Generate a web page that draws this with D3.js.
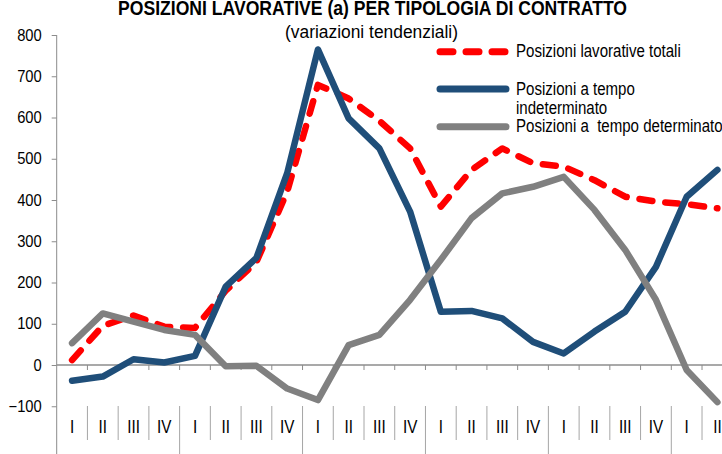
<!DOCTYPE html>
<html>
<head>
<meta charset="utf-8">
<script src="https://cdn.jsdelivr.net/npm/d3@7"></script>
<style>
  html, body { margin: 0; padding: 0; background: #fff; }
  svg { display: block; }
  text { font-family: "Liberation Sans", Arial, sans-serif; fill: #000; white-space: pre; }
</style>
</head>
<body>
<svg id="chart" width="722" height="454"></svg>
<script>
// ---- data ----
const quarters = ["I","II","III","IV","I","II","III","IV","I","II","III","IV","I","II","III","IV","I","II","III","IV","I","II"];
const totali = [12, 95, 120, 93, 90, 180, 250, 420, 679, 646, 592, 525, 384, 473, 525, 489, 481, 448, 408, 396, 390, 380];
const indeterminato = [-38, -28, 14, 6, 22, 190, 260, 465, 765, 598, 525, 372, 129, 131, 113, 56, 28, 81, 129, 238, 408, 473];
const determinato = [53, 125, 105, 85, 73, -3, -2, -57, -85, 48, 73, 158, 255, 356, 416, 432, 456, 376, 279, 158, -12, -90];
const yTicks = [-100, 0, 100, 200, 300, 400, 500, 600, 700, 800];
const seriesNames = ["Posizioni lavorative totali", "Posizioni a tempo indeterminato", "Posizioni a  tempo determinato"];

const svg = d3.select("#chart");
const idx = d3.range(quarters.length);

const x = d3.scaleBand().domain(idx).range([56.7, 56.7 + 30.73 * quarters.length]).padding(0);
const y = d3.scaleLinear().domain([-100, 800]).range([406.25, 35]);
const cx = i => x(i) + x.bandwidth() / 2;

const axisColor = "#8c8c8c";

// narrow the glyphs of a text selection (reference uses a condensed face)
function condense(sel, f) {
  sel.each(function() {
    const w = this.getComputedTextLength();
    d3.select(this).attr("textLength", w * f).attr("lengthAdjust", "spacingAndGlyphs");
  });
}

// y axis
const yAxis = d3.axisLeft(y).tickValues(yTicks).tickSize(5).tickPadding(10).tickFormat(d3.format("d"));
const gy = svg.append("g").attr("transform", "translate(56.7,0)").call(yAxis);
gy.select(".domain").remove();
gy.selectAll(".tick line").attr("stroke", axisColor);
gy.selectAll(".tick text").style("font-family", "'Liberation Sans', Arial, sans-serif").style("font-size", "16px").attr("fill", "#000");
condense(gy.selectAll(".tick text"), 0.92);
svg.append("line").attr("x1", 56.7).attr("x2", 56.7).attr("y1", 35).attr("y2", 454).attr("stroke", axisColor).attr("stroke-width", 1);

// zero line with ticks at band boundaries
const y0 = y(0);
svg.append("line").attr("x1", 56.7).attr("x2", 722).attr("y1", y0).attr("y2", y0).attr("stroke", axisColor).attr("stroke-width", 1.3);
const bounds = d3.range(quarters.length + 1).map(k => 56.7 + x.step() * k);
svg.append("g").selectAll("line").data(bounds.slice(1)).join("line")
  .attr("x1", d => d).attr("x2", d => d).attr("y1", y0).attr("y2", y0 + 5)
  .attr("stroke", axisColor);

// category label separators
svg.append("g").selectAll("line").data(bounds.slice(1)).join("line")
  .attr("x1", d => d).attr("x2", d => d)
  .attr("y1", 406)
  .attr("y2", (d, k) => ((k + 1) % 4 === 0) ? 454 : 440)
  .attr("stroke", "#a6a6a6");

// category labels
const xAxis = d3.axisBottom(x).tickFormat(i => quarters[i]).tickSize(0).tickPadding(0);
const gx = svg.append("g").attr("transform", "translate(0,0)").call(xAxis);
gx.select(".domain").remove();
gx.selectAll(".tick text").attr("dy", null).attr("y", 433)
  .style("font-family", "'Liberation Sans', Arial, sans-serif").style("font-size", "19px").attr("fill", "#000");
condense(gx.selectAll(".tick text"), 0.8);

// lines
const line = data => d3.line().x((d, i) => cx(i)).y(d => y(d))(data);
svg.append("path").attr("d", line(totali)).attr("fill", "none").attr("stroke", "#ff0000")
  .attr("stroke-width", 6.5).attr("stroke-dasharray", "13,13").attr("stroke-linecap", "round").attr("stroke-linejoin", "round");
svg.append("path").attr("d", line(indeterminato)).attr("fill", "none").attr("stroke", "#1f4e79")
  .attr("stroke-width", 6.5).attr("stroke-linecap", "round").attr("stroke-linejoin", "round");
svg.append("path").attr("d", line(determinato)).attr("fill", "none").attr("stroke", "#808080")
  .attr("stroke-width", 6.5).attr("stroke-linecap", "round").attr("stroke-linejoin", "round");

// title
svg.append("text").attr("x", 372.5).attr("y", 15).attr("text-anchor", "middle")
  .style("font-size", "20px").style("font-weight", "bold")
  .attr("textLength", 509).attr("lengthAdjust", "spacingAndGlyphs")
  .text("POSIZIONI LAVORATIVE (a) PER TIPOLOGIA DI CONTRATTO");
svg.append("text").attr("x", 371.5).attr("y", 38).attr("text-anchor", "middle")
  .style("font-size", "17.5px")
  .attr("textLength", 173).attr("lengthAdjust", "spacingAndGlyphs")
  .text("(variazioni tendenziali)");

// legend
const lg = svg.append("g");
lg.append("line").attr("x1", 440).attr("x2", 506).attr("y1", 51.7).attr("y2", 51.7)
  .attr("stroke", "#ff0000").attr("stroke-width", 7).attr("stroke-linecap", "round").attr("stroke-dasharray", "13,13");
lg.append("line").attr("x1", 440).attr("x2", 506).attr("y1", 89).attr("y2", 89)
  .attr("stroke", "#1f4e79").attr("stroke-width", 7).attr("stroke-linecap", "round");
lg.append("line").attr("x1", 440).attr("x2", 506).attr("y1", 126.7).attr("y2", 126.7)
  .attr("stroke", "#808080").attr("stroke-width", 7).attr("stroke-linecap", "round");
const legendTexts = [
  {t: seriesNames[0], y: 57},
  {t: "Posizioni a tempo", y: 95},
  {t: "indeterminato", y: 114},
  {t: seriesNames[2], y: 132}
];
const lt = lg.selectAll("text.leg").data(legendTexts).join("text").attr("class", "leg")
  .attr("x", 516).attr("y", d => d.y).style("font-size", "17.5px").text(d => d.t);
condense(lt, 0.86);
</script>
</body>
</html>
